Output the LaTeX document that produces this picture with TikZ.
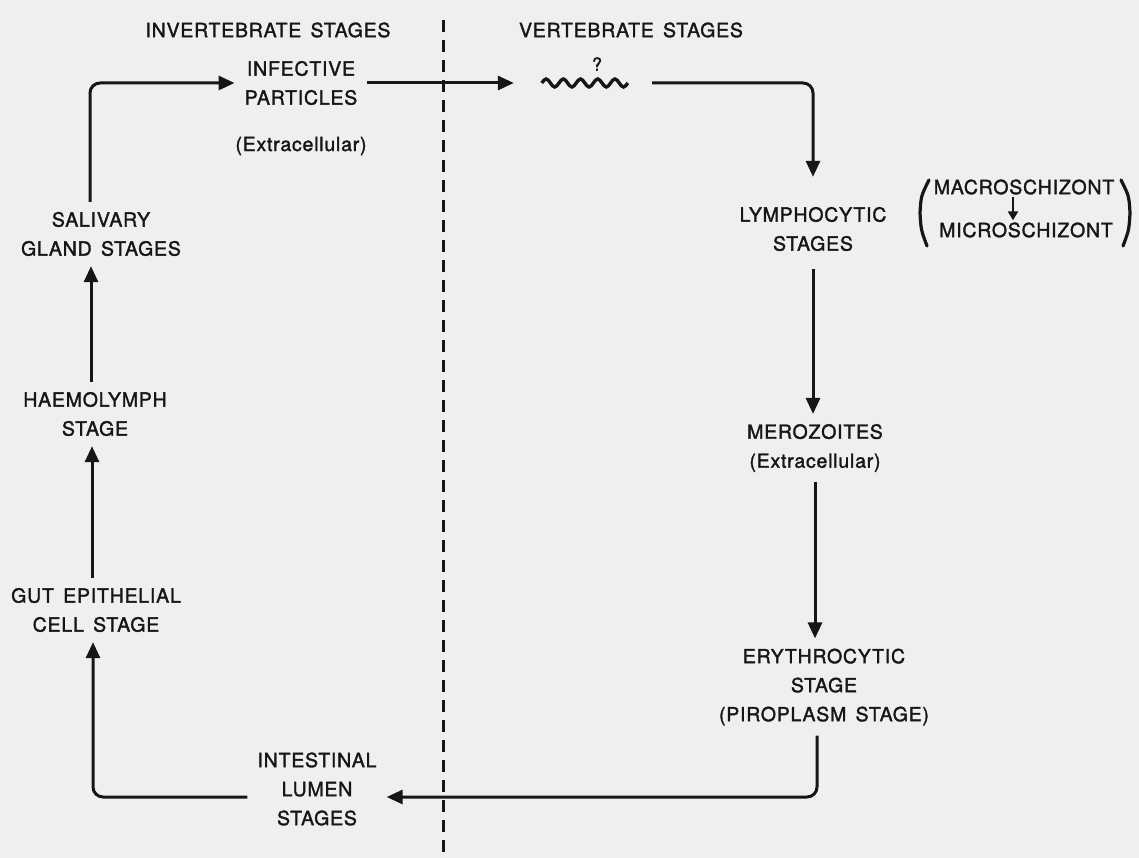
\documentclass[tikz,border=0pt]{standalone}
\usepackage{fontspec}
\setmainfont[LetterSpace=4,WordSpace=1.5,FakeBold=1.6]{TeX Gyre Heros}
\usetikzlibrary{arrows.meta}
\definecolor{paper}{RGB}{239,239,239}
\definecolor{ink}{RGB}{22,22,22}

\begin{document}
\begin{tikzpicture}[x=1pt,y=-1pt,
    stage/.style={align=center,inner sep=10pt,text=ink,font=\fontsize{19.5}{29}\selectfont},
    flow/.style={draw=ink,line width=3pt,rounded corners=10pt,-{Triangle[length=16pt,width=14pt]}},
    paren/.style={draw=ink,line width=3.2pt,line cap=round}]
  \fill[paper] (0,0) rectangle (1139,858);
  \useasboundingbox (0,0) rectangle (1139,858);
  % host divider
  \draw[ink,line width=3pt,dash pattern=on 12pt off 8pt] (443,20) -- (443,858);
  \node[stage] (invhead) at (268,30) {INVERTEBRATE STAGES};
  \node[stage] (verthead) at (631,30) {VERTEBRATE STAGES};

  % tick side
  \node[stage] (infective) at (301,83) {INFECTIVE\\PARTICLES};
  \node[stage] (infextra) at (301,146) {(Extracellular)};
  \node[stage] (gland) at (101,234) {SALIVARY\\GLAND STAGES};
  \node[stage] (haemo) at (95,414) {HAEMOLYMPH\\STAGE};
  \node[stage] (gut) at (96,610) {GUT EPITHELIAL\\CELL STAGE};
  \node[stage] (intest) at (317,789) {INTESTINAL\\LUMEN\\STAGES};

  % cattle side
  \node[inner sep=0pt,minimum width=86pt,minimum height=10pt] (wave) at (585,83) {};
  \node[stage,inner sep=0pt,font=\fontsize{18}{20}\selectfont] (query) at (597,64) {?};
  \node[stage] (lymph) at (813,229) {LYMPHOCYTIC\\STAGES};
  \node[stage,inner sep=2pt] (macro) at (1024,187) {MACROSCHIZONT};
  \node[stage,inner sep=2pt] (micro) at (1026,230) {MICROSCHIZONT};
  \node[stage] (mero) at (815,448) {MEROZOITES\\(Extracellular)};
  \node[stage] (ery) at (824,687) {ERYTHROCYTIC\\STAGE\\(PIROPLASM STAGE)};

  \draw[ink,line width=3.4pt] (wave.west) \foreach \i in {0,...,4} {
    sin ++(4.3,-4) cos ++(4.3,4) sin ++(4.3,4) cos ++(4.3,-4)};
  \draw[paren] (929,180) .. controls (921,196) .. (920,213) .. controls (921,230) .. (927,246);
  \draw[paren] (1121,180) .. controls (1129,196) .. (1130,213) .. controls (1129,230) .. (1123,246);
  \draw[ink,line width=2.4pt,-{Triangle[length=9pt,width=10pt]}] ([xshift=-11pt]macro.south) -- ([xshift=-13pt]micro.north);

  % the cycle
  \draw[flow,shorten >=28pt] (infective.east) -- (wave.west);
  \draw[flow,shorten <=24pt,shorten >=20pt] (wave.east) -| (lymph.north);
  \draw[flow,shorten <=8pt] (lymph.south) -- ([xshift=-2pt]mero.north);
  \draw[flow] (mero.south) -- ([xshift=-9pt]ery.north);
  \draw[flow] ([xshift=-7pt]ery.south) |- ([yshift=-8pt]intest.east);
  \draw[flow] ([yshift=-8pt]intest.west) -| ([xshift=-3pt]gut.south);
  \draw[flow] ([xshift=-4pt]gut.north) -- ([xshift=-3pt]haemo.south);
  \draw[flow] ([xshift=-4pt]haemo.north) -- ([xshift=-10pt]gland.south);
  \draw[flow] ([xshift=-11pt]gland.north) |- (infective.west);
\end{tikzpicture}
\end{document}
